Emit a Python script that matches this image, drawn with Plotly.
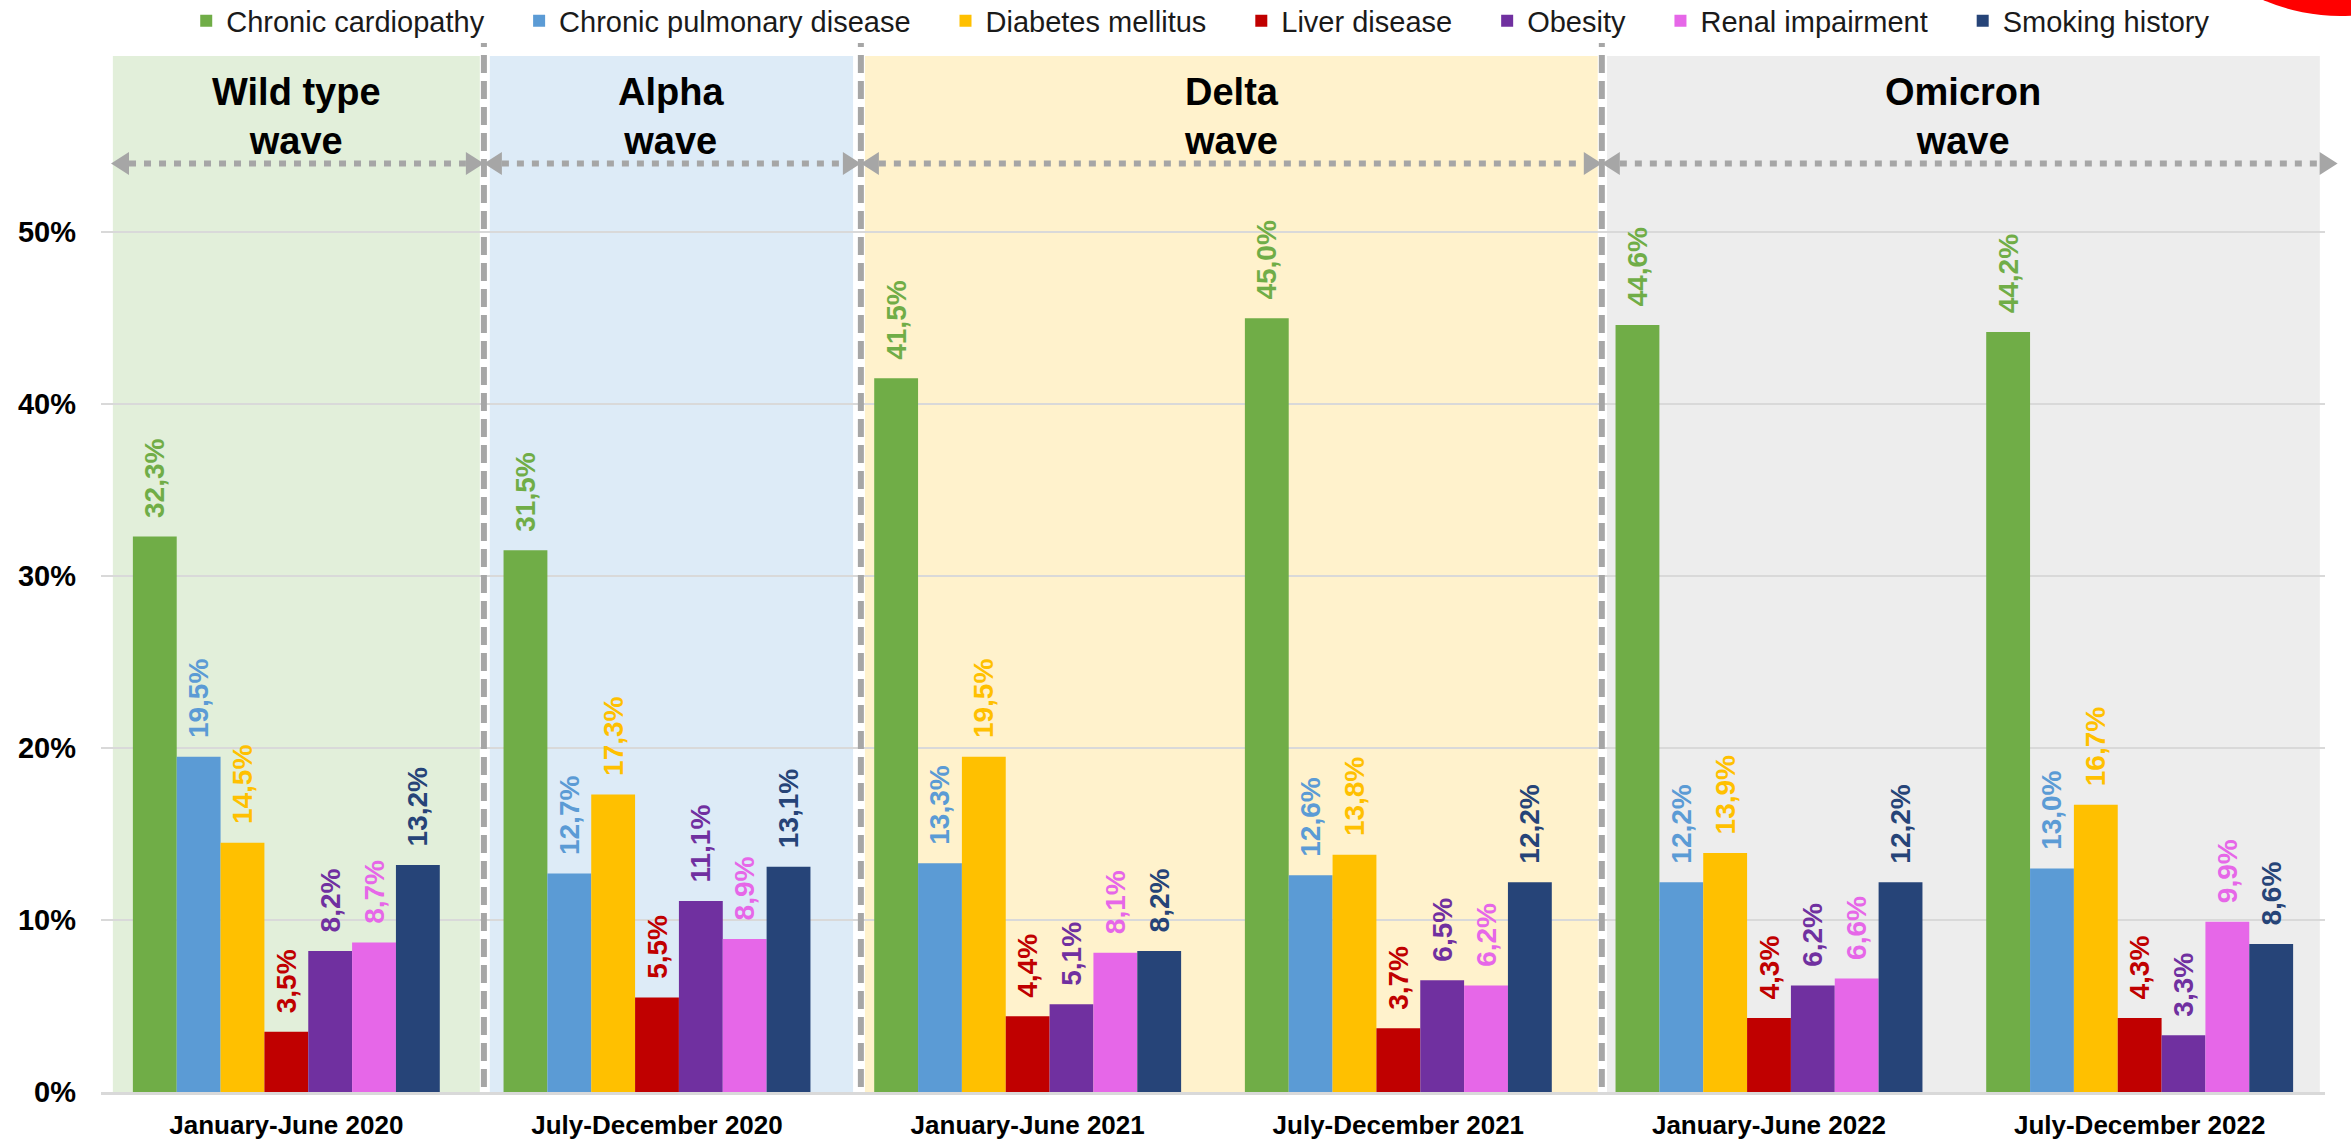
import plotly.graph_objects as go

# ---------------- data ----------------
periods = ["January-June 2020", "July-December 2020", "January-June 2021",
           "July-December 2021", "January-June 2022", "July-December 2022"]

conditions = ["Chronic cardiopathy", "Chronic pulmonary disease", "Diabetes mellitus",
              "Liver disease", "Obesity", "Renal impairment", "Smoking history"]

chronic_cardiopathy = [32.3, 31.5, 41.5, 45.0, 44.6, 44.2]
chronic_pulmonary = [19.5, 12.7, 13.3, 12.6, 12.2, 13.0]
diabetes_mellitus = [14.5, 17.3, 19.5, 13.8, 13.9, 16.7]
liver_disease = [3.5, 5.5, 4.4, 3.7, 4.3, 4.3]
obesity = [8.2, 11.1, 5.1, 6.5, 6.2, 3.3]
renal_impairment = [8.7, 8.9, 8.1, 6.2, 6.6, 9.9]
smoking_history = [13.2, 13.1, 8.2, 12.2, 12.2, 8.6]

series_values = [chronic_cardiopathy, chronic_pulmonary, diabetes_mellitus,
                 liver_disease, obesity, renal_impairment, smoking_history]
series_colors = ["#70AD47", "#5B9BD5", "#FFC000", "#C00000", "#7030A0", "#E667E8", "#264478"]

y_tick_values = [0, 10, 20, 30, 40, 50]
y_tick_labels = ["0%", "10%", "20%", "30%", "40%", "50%"]

wave_labels = ["Wild type<br>wave", "Alpha<br>wave", "Delta<br>wave", "Omicron<br>wave"]
wave_bg_colors = ["#E2EFDA", "#DDEBF7", "#FFF2CC", "#EDEDED"]
# spans in category-axis units
wave_bg_start = [-0.468, 0.549, 1.561, 3.563]
wave_bg_end = [0.522, 1.529, 3.538, 5.486]
wave_arrow_start = [-0.473, 0.533, 1.550, 3.549]
wave_arrow_end = [0.533, 1.550, 3.549, 5.534]
wave_dividers = [0.533, 1.550, 3.549]

# ---------------- layout geometry ----------------
W, H = 2351, 1143
ML, MR, MT, MB = 101, 26, 43, 51
PW, PH = W - ML - MR, H - MT - MB
X_RANGE = [-0.5, 5.5]
Y_RANGE = [0, 61]


def px(xd):
    return (xd - X_RANGE[0]) / (X_RANGE[1] - X_RANGE[0])


def py(yd):
    return (yd - Y_RANGE[0]) / (Y_RANGE[1] - Y_RANGE[0])


FONT = "Arial, 'Liberation Sans', sans-serif"
GREY = "#A6A6A6"
PAD = "\u00a0" * 3 + "\u2009"  # extra spacing between legend entries

fig = go.Figure()
for name, vals, col in zip(conditions, series_values, series_colors):
    fig.add_trace(go.Bar(
        name=name + PAD, x=periods, y=vals, marker=dict(color=col, line=dict(width=0)),
        texttemplate="\u00a0\u00a0%{y:.1f}%", textposition="outside", textangle=-90,
        textfont=dict(color=col, size=28, family=FONT, weight="bold"),
        constraintext="none", cliponaxis=False,
    ))

shapes = []
annotations = []
arrow_y = py(54.0)
ah_len = 18 / PW
ah_half = 11.5 / PH
for lab, c, s, e, a0, a1 in zip(wave_labels, wave_bg_colors, wave_bg_start, wave_bg_end,
                                wave_arrow_start, wave_arrow_end):
    shapes.append(dict(type="rect", xref="paper", yref="paper", x0=px(s), x1=px(e),
                       y0=py(0), y1=py(60.24), fillcolor=c, line=dict(width=0), layer="below"))
    shapes.append(dict(type="line", xref="paper", yref="paper",
                       x0=px(a0) + ah_len, x1=px(a1) - ah_len, y0=arrow_y, y1=arrow_y,
                       line=dict(color=GREY, width=6, dash="7px,8px"), layer="above"))
    l0 = px(a0)
    r0 = px(a1)
    shapes.append(dict(type="path", xref="paper", yref="paper",
                       path=f"M {l0},{arrow_y} L {l0 + ah_len},{arrow_y + ah_half} L {l0 + ah_len},{arrow_y - ah_half} Z",
                       fillcolor=GREY, line=dict(width=0), layer="above"))
    shapes.append(dict(type="path", xref="paper", yref="paper",
                       path=f"M {r0},{arrow_y} L {r0 - ah_len},{arrow_y + ah_half} L {r0 - ah_len},{arrow_y - ah_half} Z",
                       fillcolor=GREY, line=dict(width=0), layer="above"))
    annotations.append(dict(text=lab, xref="paper", yref="paper", x=(px(s) + px(e)) / 2,
                            y=py(56.75), showarrow=False, xanchor="center", yanchor="middle",
                            font=dict(family=FONT, size=38, color="#000000", weight="bold")))

for d in wave_dividers:
    shapes.append(dict(type="line", xref="paper", yref="paper", x0=px(d), x1=px(d),
                       y0=5 / PH, y1=1.0,
                       line=dict(color=GREY, width=6, dash="18px,8px"), layer="above"))

# red circle fragment in the top-right corner
shapes.append(dict(type="circle", xref="paper", yref="paper",
                   x0=(2147 - ML) / PW, x1=(2533 - ML) / PW,
                   y0=(H - MB - 16) / PH, y1=(H - MB + 370) / PH,
                   fillcolor="#FF0000", line=dict(width=0), layer="above"))

fig.update_layout(
    width=W, height=H,
    margin=dict(l=ML, r=MR, t=MT, b=MB, autoexpand=False),
    paper_bgcolor="white", plot_bgcolor="rgba(0,0,0,0)",
    barmode="group", bargap=0.172, bargroupgap=0,
    separators=", ",
    font=dict(family=FONT),
    shapes=shapes, annotations=annotations,
    showlegend=True,
    legend=dict(orientation="h", x=0.501, xanchor="center", y=1 + 22 / PH, yanchor="middle",
                font=dict(size=29, color="#1a1a1a", family=FONT),
                bgcolor="rgba(0,0,0,0)", itemwidth=30, traceorder="normal"),
    xaxis=dict(range=X_RANGE, showgrid=False, showline=True, linecolor="#D9D9D9", linewidth=3,
               ticks="", tickfont=dict(size=26, color="#000000", family=FONT, weight="bold"),
               ticklabelstandoff=8, zeroline=False, automargin=False),
    yaxis=dict(range=Y_RANGE, tickvals=y_tick_values, ticktext=y_tick_labels,
               showgrid=True, gridcolor="#D9D9D9", gridwidth=2, zeroline=False, ticks="",
               tickfont=dict(size=29, color="#000000", family=FONT, weight="bold"),
               ticklabelstandoff=24, showline=False, automargin=False),
)

fig.write_html("out.html", config={"displayModeBar": False},
               post_script="document.body.style.margin='0';document.body.style.overflow='hidden';")
